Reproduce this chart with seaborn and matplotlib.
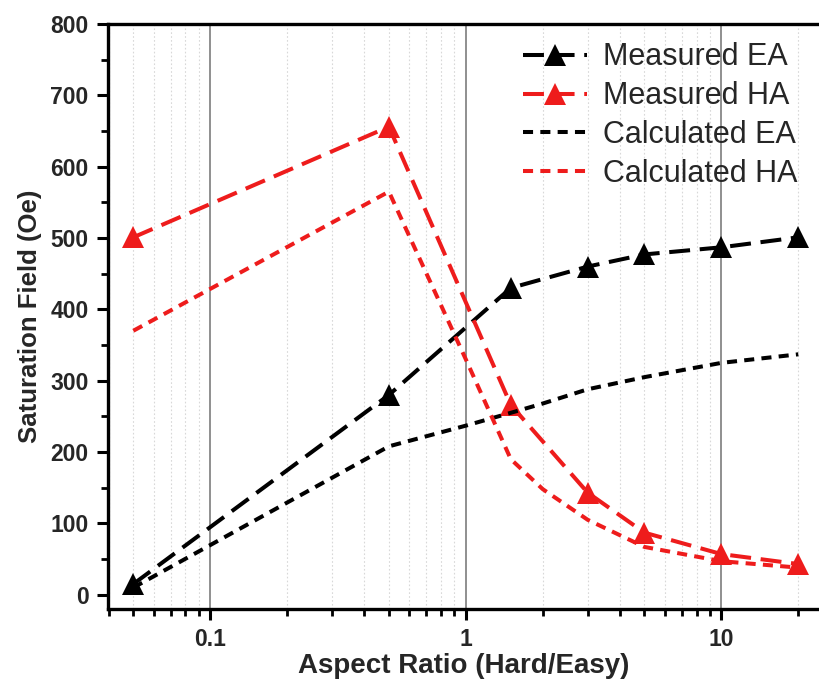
import numpy as np
import pandas as pd
import matplotlib
matplotlib.use("Agg")
import matplotlib.pyplot as plt
import seaborn as sns
from matplotlib.ticker import FixedLocator, NullFormatter, MultipleLocator, FixedFormatter

# ---- data ----
meas_x = [0.05, 0.5, 1.5, 3, 5, 10, 20]
meas_ea = [15, 280, 430, 460, 477, 487, 501]
meas_ha = [501, 656, 266, 143, 87, 57, 43]

calc_x = [0.05, 0.5, 1, 1.5, 2, 3, 5, 10, 20]
calc_ea = [10, 208, 237, 255, 268, 288, 305, 325, 337]
calc_ha = [370, 565, 330, 190, 148, 105, 67, 47, 38]

labels = ["Measured EA", "Measured HA", "Calculated EA", "Calculated HA"]
xtick_vals = [0.1, 1, 10]
xtick_labels = ["0.1", "1", "10"]

sns.set_style("white")
plt.rcParams["font.family"] = ["Liberation Sans", "DejaVu Sans"]

fig = plt.figure(figsize=(8.19, 6.84), dpi=100)
ax = fig.add_axes([108 / 819, 1 - 609 / 684, 1 - 108 / 819, (609 - 24) / 684])
ax.set_xscale("log")

red = "#ee1c1c"
lw = 2.9
long_dash = (5.2, 2.4)
short_dash = (2.5, 1.8)

series = [
    (meas_x, meas_ea, "black", labels[0], "^", long_dash),
    (meas_x, meas_ha, red, labels[1], "^", long_dash),
    (calc_x, calc_ea, "black", labels[2], None, short_dash),
    (calc_x, calc_ha, red, labels[3], None, short_dash),
]
for xs, ys, col, lab, mk, dsh in series:
    df = pd.DataFrame({"x": xs, "y": ys})
    kw = dict(marker=mk, markersize=16, markeredgecolor=col, markeredgewidth=0) if mk else {}
    sns.lineplot(data=df, x="x", y="y", ax=ax, color=col, linewidth=lw,
                 label=lab, zorder=3, **kw)
    ax.lines[-1].set_dashes(dsh)

ax.set_xlim(0.0398, 24.1)
ax.set_ylim(-20, 800)

# grid
ax.xaxis.set_major_locator(FixedLocator(xtick_vals))
ax.xaxis.set_major_formatter(FixedFormatter(xtick_labels))
minors = [m * 10.0 ** e for e in (-2, -1, 0, 1) for m in range(2, 10)]
ax.xaxis.set_minor_locator(FixedLocator(minors))
ax.xaxis.set_minor_formatter(NullFormatter())
ax.yaxis.set_major_locator(MultipleLocator(100))
ax.yaxis.set_minor_locator(MultipleLocator(50))

ax.grid(False)
ax.xaxis.grid(True, which="major", color="#8f8f8f", linewidth=1.4, linestyle="-", zorder=0)
ax.xaxis.grid(True, which="minor", color="#d8d8d8", linewidth=0.8, linestyle=(0, (1.5, 2)), zorder=0)
ax.set_axisbelow(True)

for s in ["left", "bottom", "top"]:
    ax.spines[s].set_visible(True)
    ax.spines[s].set_linewidth(2.4)
    ax.spines[s].set_color("black")
ax.spines["right"].set_visible(False)

ax.tick_params(axis="both", which="major", direction="out", length=8, width=2.2,
               labelsize=16.5, color="black", bottom=True, left=True, top=False, right=False, pad=6)
ax.tick_params(axis="both", which="minor", direction="out", length=5, width=2.0,
               color="black", bottom=True, left=True, top=False, right=False)
for t in ax.get_xticklabels() + ax.get_yticklabels():
    t.set_fontweight("bold")

ax.set_xlabel("Aspect Ratio (Hard/Easy)", fontsize=20, fontweight="bold", labelpad=1)
ax.set_ylabel("Saturation Field (Oe)", fontsize=18.5, fontweight="bold", labelpad=6)

leg = ax.legend(loc="upper right", frameon=False, fontsize=22, handlelength=2.1,
                handletextpad=0.5, labelspacing=0.29, borderaxespad=0.2,
                bbox_to_anchor=(0.995, 1.0), numpoints=1)

fig.savefig("out.png", dpi=100)
